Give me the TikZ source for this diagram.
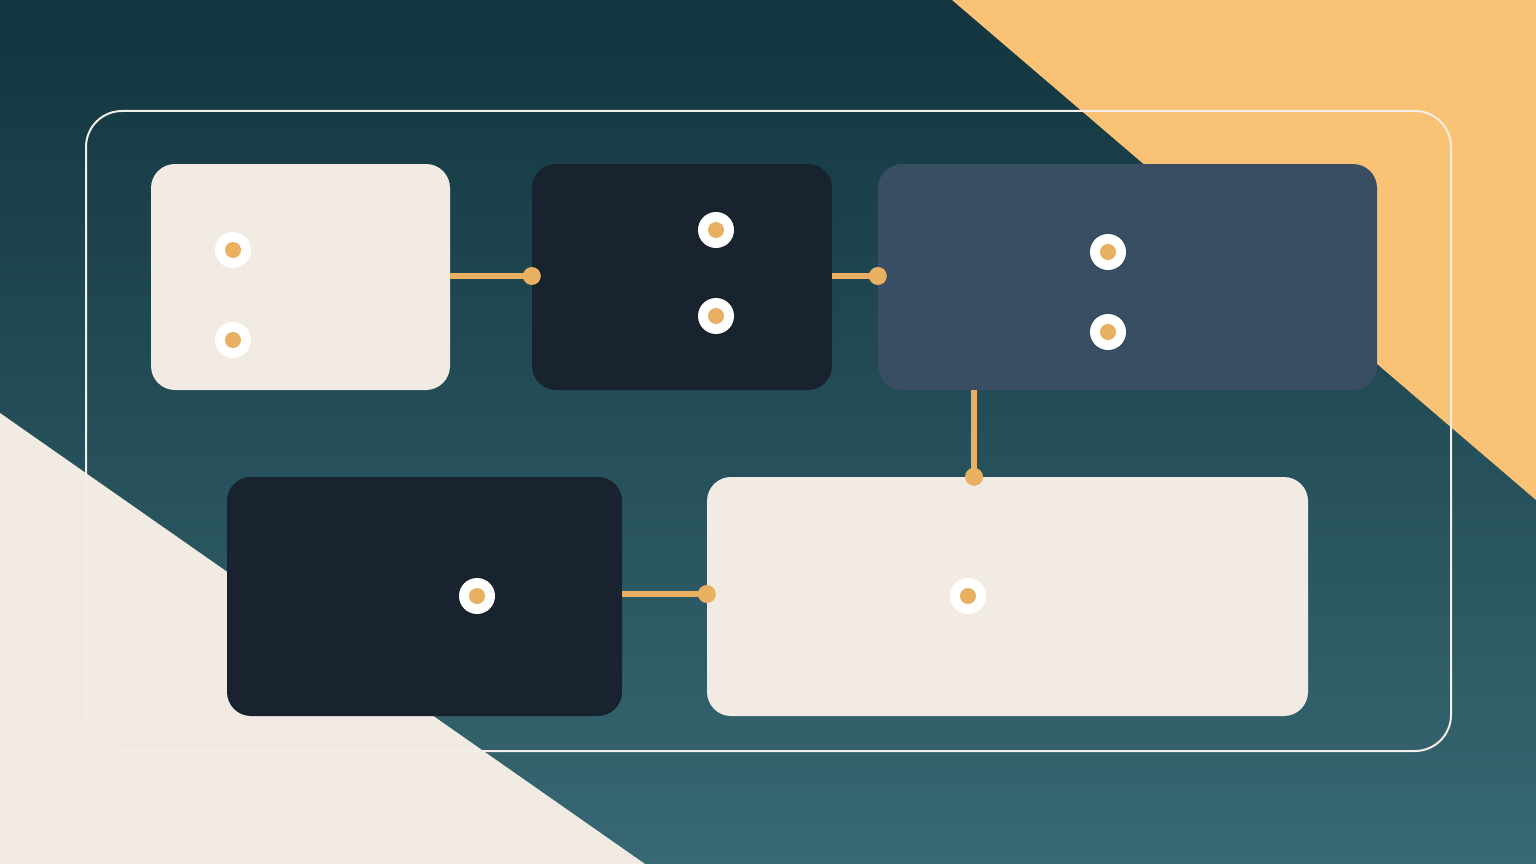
\documentclass[tikz,border=0pt]{standalone}
\usetikzlibrary{calc}
\definecolor{bgtop}{HTML}{12353F}
\definecolor{bgbot}{HTML}{376873}
\definecolor{peach}{HTML}{F9C274}
\definecolor{cream}{HTML}{F2EBE4}
\definecolor{navy}{HTML}{18232F}
\definecolor{slate}{HTML}{394E62}
\definecolor{gold}{HTML}{E8B060}
\definecolor{framecol}{HTML}{F4EEE8}
\tikzset{
  card/.style={rectangle, rounded corners=24pt, inner sep=0pt, draw=none},
  creamcard/.style={card, fill=cream},
  navycard/.style={card, fill=navy},
  slatecard/.style={card, fill=slate},
  link/.style={draw=gold, line width=6pt},
  enddot/.style={circle, fill=gold, inner sep=0pt, minimum size=18pt},
  ring/.style={circle, fill=white, inner sep=0pt, minimum size=36pt},
  core/.style={circle, fill=gold, inner sep=0pt, minimum size=16pt},
}
\newcommand{\pin}[2]{\node[ring] (#1) at #2 {}; \node[core] at (#1) {};}
\begin{document}
\begin{tikzpicture}[x=1pt,y=-1pt]
\useasboundingbox (0,0) rectangle (1536,864);
% background
\shade[top color=bgtop, bottom color=bgbot] (0,0) rectangle (1536,864);
\fill[peach] (952,0) -- (1536,0) -- (1536,500) -- cycle;
\fill[cream] (0,413) -- (0,864) -- (645,864) -- cycle;
% frame
\draw[framecol, line width=2pt, rounded corners=36pt] (86,111) rectangle (1451,751);
% cards
\node[creamcard, minimum width=299pt, minimum height=226pt] (b1) at (300.5,277) {};
\node[navycard, minimum width=300pt, minimum height=226pt] (b2) at (682,277) {};
\node[slatecard, minimum width=499pt, minimum height=226pt] (b3) at (1127.5,277) {};
\node[navycard, minimum width=395pt, minimum height=239pt] (b4) at (424.5,596.5) {};
\node[creamcard, minimum width=601pt, minimum height=239pt] (b5) at (1007.5,596.5) {};
% connectors
\coordinate (vx) at (974,430);
\coordinate (hy1) at (0,276);
\coordinate (hy2) at (0,594);
\draw[link] (b1.east |- hy1) -- (b2.west |- hy1);
\node[enddot] at (b2.west |- hy1) {};
\draw[link] (b2.east |- hy1) -- (b3.west |- hy1);
\node[enddot] at (b3.west |- hy1) {};
\draw[link] (b3.south -| vx) -- (b5.north -| vx);
\node[enddot] at (b5.north -| vx) {};
\draw[link] (b4.east |- hy2) -- (b5.west |- hy2);
\node[enddot] at (b5.west |- hy2) {};
% pins
\pin{p1}{(233,250)}
\pin{p2}{(233,340)}
\pin{p3}{(716,230)}
\pin{p4}{(716,316)}
\pin{p5}{(1108,252)}
\pin{p6}{(1108,332)}
\pin{p7}{(477,596)}
\pin{p8}{(968,596)}
\end{tikzpicture}
\end{document}
